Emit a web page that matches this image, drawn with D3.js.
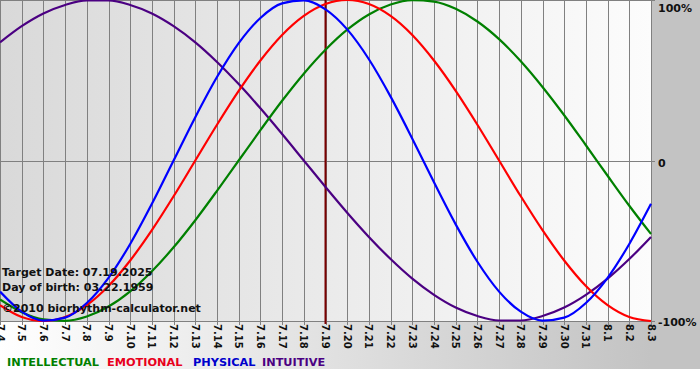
<!DOCTYPE html>
<html><head><meta charset="utf-8">
<script src="https://cdn.jsdelivr.net/npm/d3@7"></script>
<style>html,body{margin:0;padding:0;background:#fff;}svg{display:block;}</style>
</head><body>
<script>
const dayLabels = ["7.4","7.5","7.6","7.7","7.8","7.9","7.10","7.11","7.12","7.13","7.14","7.15","7.16","7.17","7.18","7.19","7.20","7.21","7.22","7.23","7.24","7.25","7.26","7.27","7.28","7.29","7.30","7.31","8.1","8.2","8.3"];
const physical = [-0.817,-0.942,-0.998,-0.979,-0.888,-0.731,-0.520,-0.270,0,0.270,0.520,0.731,0.888,0.979,0.998,0.942,0.817,0.631,0.398,0.136,-0.136,-0.398,-0.631,-0.817,-0.942,-0.998,-0.979,-0.888,-0.731,-0.520,-0.270];
const emotional = [-0.901,-0.975,-1,-0.975,-0.901,-0.782,-0.623,-0.434,-0.223,0,0.223,0.434,0.623,0.782,0.901,0.975,1,0.975,0.901,0.782,0.623,0.434,0.223,0,-0.223,-0.434,-0.623,-0.782,-0.901,-0.975,-1];
const intellectual = [-0.866,-0.945,-0.990,-0.999,-0.972,-0.910,-0.815,-0.690,-0.541,-0.372,-0.189,0,0.189,0.372,0.541,0.690,0.815,0.910,0.972,0.999,0.990,0.945,0.866,0.756,0.618,0.458,0.282,0.095,-0.095,-0.282,-0.458];
const intuitive = [0.736,0.837,0.916,0.969,0.997,0.997,0.969,0.916,0.837,0.736,0.614,0.476,0.325,0.165,0,-0.165,-0.325,-0.476,-0.614,-0.736,-0.837,-0.916,-0.969,-0.997,-0.997,-0.969,-0.916,-0.837,-0.736,-0.614,-0.476];
const targetDay = "7.19";
const yTickValues = [1, 0, -1];
const yTickLabels = ["100%", "0", "-100%"];
const infoLines = ["Target Date: 07.19.2025", "Day of birth: 03.22.1959", "\u00a92010 biorhythm-calculator.net"];
const seriesNames = ["INTELLECTUAL", "EMOTIONAL", "PHYSICAL", "INTUITIVE"];
const seriesColors = ["#008000", "#ff0000", "#0000ff", "#4b0082"];
const legendColors = ["#008000", "#e8001c", "#0000cc", "#4b0082"];

const W = 700, H = 380;
const plot = {x0: 0, x1: 651, y0: 0, y1: 321};
const FONT = "Verdana, 'DejaVu Sans', sans-serif";

const svg = d3.select("body").append("svg").attr("width", W).attr("height", H);
const defs = svg.append("defs");
const og = defs.append("linearGradient").attr("id", "outer").attr("x1", "0").attr("x2", "1").attr("y1", "0").attr("y2", "0");
og.append("stop").attr("offset", "0").attr("stop-color", "#ffffff");
og.append("stop").attr("offset", "0.93").attr("stop-color", "#c3c3c3");
og.append("stop").attr("offset", "1").attr("stop-color", "#c3c3c3");
const pg = defs.append("linearGradient").attr("id", "inner").attr("x1", "0").attr("x2", "1").attr("y1", "0").attr("y2", "0");
pg.append("stop").attr("offset", "0").attr("stop-color", "#d9d9d9");
pg.append("stop").attr("offset", "1").attr("stop-color", "#fcfcfc");

svg.append("rect").attr("x", 0).attr("y", 0).attr("width", W).attr("height", 369).attr("fill", "url(#outer)");
svg.append("rect").attr("x", 0).attr("y", 369).attr("width", W).attr("height", H - 369).attr("fill", "#ffffff");

const x = d3.scalePoint().domain(dayLabels).range([plot.x0, plot.x1]);
const y = d3.scaleLinear().domain([-1, 1]).range([plot.y1, plot.y0]);

svg.append("rect").attr("x", plot.x0).attr("y", plot.y0).attr("width", plot.x1 - plot.x0).attr("height", plot.y1 - plot.y0).attr("fill", "url(#inner)");

// vertical grid
svg.append("g").selectAll("line").data(dayLabels).join("line")
  .attr("x1", d => Math.round(x(d)) + 0.5).attr("x2", d => Math.round(x(d)) + 0.5)
  .attr("y1", plot.y0).attr("y2", plot.y1 + 4)
  .attr("stroke", "#808080").attr("stroke-width", 1);
// horizontal lines
svg.append("g").selectAll("line").data(yTickValues).join("line")
  .attr("x1", plot.x0).attr("x2", plot.x1 + 4)
  .attr("y1", d => Math.round(y(d)) + 0.5).attr("y2", d => Math.round(y(d)) + 0.5)
  .attr("stroke", "#808080").attr("stroke-width", 1);

// target line
svg.append("line").attr("x1", x(targetDay)).attr("x2", x(targetDay))
  .attr("y1", plot.y0).attr("y2", plot.y1 + 3)
  .attr("stroke", "#7a0000").attr("stroke-width", 2);

// curves
const line = d3.line().x((d, i) => x(dayLabels[i])).y(d => y(d)).curve(d3.curveMonotoneX);
const allSeries = [intellectual, emotional, physical, intuitive];
const drawOrder = [3, 0, 1, 2];
const clip = defs.append("clipPath").attr("id", "pc");
clip.append("rect").attr("x", plot.x0).attr("y", plot.y0 - 1).attr("width", plot.x1 - plot.x0 + 1).attr("height", plot.y1 - plot.y0 + 2);
const cg = svg.append("g").attr("clip-path", "url(#pc)");
drawOrder.forEach(k => {
  cg.append("path").datum(allSeries[k]).attr("d", line)
    .attr("fill", "none").attr("stroke", seriesColors[k]).attr("stroke-width", 2.2);
});

// info text
const info = svg.append("g").attr("font-family", FONT).attr("font-weight", "bold").attr("font-size", 11).attr("fill", "#111");
info.selectAll("text").data(infoLines).join("text")
  .attr("x", 2).attr("y", (d, i) => [276, 291, 312][i]).text(d => d);

// x tick labels (rotated)
svg.append("g").selectAll("text").data(dayLabels).join("text")
  .attr("transform", d => `translate(${x(d) - 3.5},${plot.y1 + 3}) rotate(90)`)
  .attr("font-family", FONT).attr("font-weight", "bold").attr("font-size", 10)
  .attr("fill", "#111")
  .attr("y", 0).text(d => d);

// y labels right
const yOff = [12, 6, 5];
svg.append("g").selectAll("text").data(yTickValues).join("text")
  .attr("x", 658)
  .attr("y", (d, i) => y(d) + yOff[i])
  .attr("font-family", FONT).attr("font-weight", "bold").attr("font-size", 11)
  .attr("fill", "#111").text((d, i) => yTickLabels[i]);

// legend
const lx = [7, 107, 193, 262];
svg.append("g").selectAll("text").data(seriesNames).join("text")
  .attr("x", (d, i) => lx[i]).attr("y", 366)
  .attr("font-family", FONT).attr("font-weight", "bold").attr("font-size", 11.3)
  .attr("fill", (d, i) => legendColors[i]).text(d => d);
</script>
</body></html>
